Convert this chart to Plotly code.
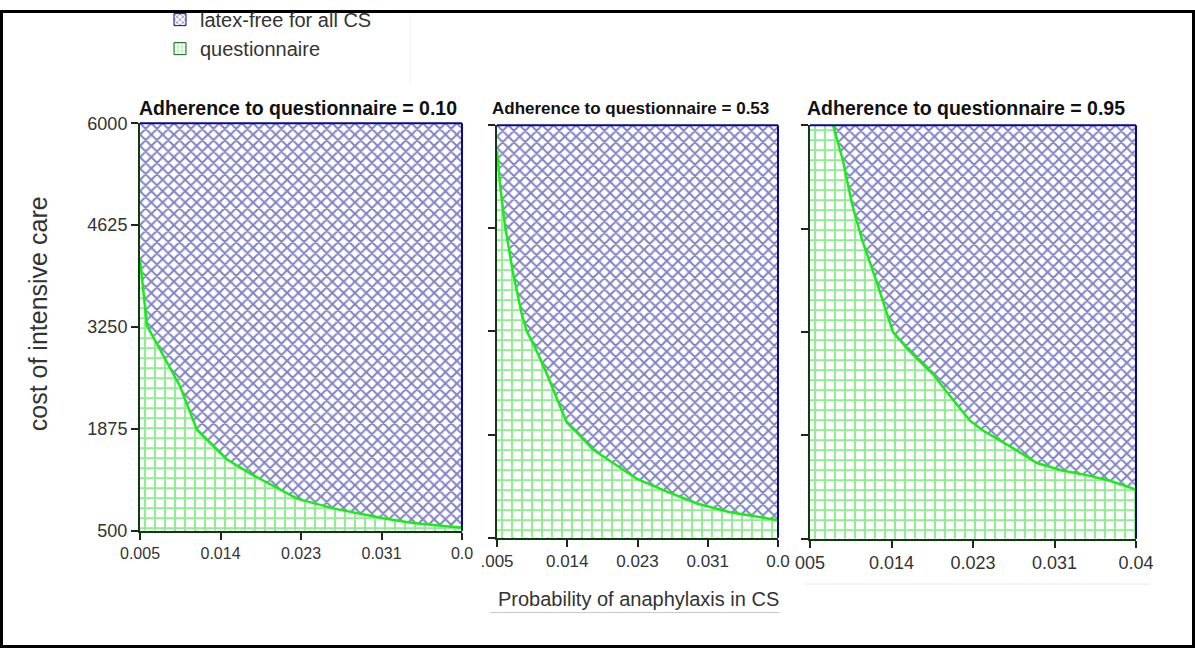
import plotly.graph_objects as go

# ---- data ----
x_min, x_max = 0.005, 0.04
y_min, y_max = 500, 6000
x_tickvals = [0.005, 0.01375, 0.0225, 0.03125, 0.04]
y_tickvals = [500, 1875, 3250, 4625, 6000]
y_ticktext = ["500", "1875", "3250", "4625", "6000"]
x_ticktext_p1 = ["0.005", "0.014", "0.023", "0.031", "0.0"]
x_ticktext_p2 = [".005", "0.014", "0.023", "0.031", "0.0"]
x_ticktext_p3 = ["005", "0.014", "0.023", "0.031", "0.04"]
adherence = ["0.10", "0.53", "0.95"]
series_names = ["latex-free for all CS", "questionnaire"]

# threshold curve (questionnaire preferred below)
p1_x = [0.005, 0.00576, 0.00935, 0.0101, 0.0112, 0.01446, 0.01728, 0.02207, 0.02598, 0.03141, 0.03467, 0.04]
p1_y = [4167, 3270, 2452, 2215, 1859, 1463, 1252, 935, 803, 671, 605, 540]
p2_x = [0.005, 0.00537, 0.006, 0.00699, 0.0081, 0.00872, 0.00973, 0.0112, 0.01285, 0.01372, 0.01496, 0.01696,
        0.02244, 0.02617, 0.02991, 0.03402, 0.04]
p2_y = [5659, 5214, 4651, 4035, 3472, 3249, 3039, 2686, 2253, 2031, 1900, 1677, 1284, 1114, 957, 840, 734]
p3_x = [0.00747, 0.00854, 0.00951, 0.01058, 0.01219, 0.01359, 0.01391, 0.01574, 0.01821, 0.02003, 0.02218,
        0.02357, 0.02647, 0.02937, 0.03184, 0.03506, 0.03721, 0.04]
p3_y = [6000, 5528, 4952, 4480, 3904, 3380, 3249, 2987, 2686, 2398, 2070, 1939, 1729, 1507, 1415, 1336, 1271, 1153]

curves = [(p1_x, p1_y), (p2_x, p2_y), (p3_x, p3_y)]
xticktexts = [x_ticktext_p1, x_ticktext_p2, x_ticktext_p3]

W, H = 1195, 648
# panel pixel boxes (left, right, top, bottom)
boxes = [(140, 462, 115, 529), (497, 778, 117, 536), (810, 1136, 117, 537)]
xtick_sizes = [16, 17, 18]
title_sizes = [19.5, 17, 19.5]
title_x = [137, 490, 805]

NAVY = "#0a0a8c"
GRID_GREEN = "#2cd82c"
LINE_GREEN = "#14ee14"
AXIS_DARK = "#0d3d0d"
FONT = "Liberation Sans"

fig = go.Figure()
for i, ((cx, cy), box) in enumerate(zip(curves, boxes)):
    xa = "x" if i == 0 else f"x{i+1}"
    ya = "y" if i == 0 else f"y{i+1}"
    # latex-free region (whole rectangle)
    fig.add_trace(go.Scatter(
        x=[x_min, x_max, x_max, x_min, x_min], y=[y_min, y_min, y_max, y_max, y_min],
        mode="lines", fill="toself", line=dict(color=NAVY, width=0),
        fillcolor="white",
        fillpattern=dict(shape="x", fgcolor=NAVY, bgcolor="white", size=8, solidity=0.45),
        showlegend=False, xaxis=xa, yaxis=ya, hoverinfo="skip"))
    # questionnaire region
    px = [x_min, x_min] + cx + [x_max, x_min]
    py = [y_min, cy[0] if cx[0] == x_min else y_max] + cy + [y_min, y_min]
    fig.add_trace(go.Scatter(
        x=px, y=py, mode="lines", fill="toself", line=dict(color=GRID_GREEN, width=0),
        fillcolor="white",
        fillpattern=dict(shape="+", fgcolor=GRID_GREEN, bgcolor="white", size=10, solidity=0.38),
        showlegend=False, xaxis=xa, yaxis=ya, hoverinfo="skip"))
    # boundary curve
    fig.add_trace(go.Scatter(
        x=cx, y=cy, mode="lines", line=dict(color=LINE_GREEN, width=2.5),
        showlegend=False, xaxis=xa, yaxis=ya, hoverinfo="skip"))

    l, r, t, b = box
    xd = [l / W, r / W]
    yd = [1 - b / H, 1 - t / H]
    xkey = "xaxis" if i == 0 else f"xaxis{i+1}"
    ykey = "yaxis" if i == 0 else f"yaxis{i+1}"
    fig.layout[xkey] = dict(
        domain=xd, range=[x_min, x_max], anchor=ya, tickmode="array", automargin=False,
        tickvals=x_tickvals, ticktext=xticktexts[i], ticks="outside", ticklen=7,
        tickwidth=1.5, tickcolor="#222", showline=True, linecolor=AXIS_DARK, linewidth=2,
        showgrid=False, zeroline=False,
        tickfont=dict(family=FONT, size=xtick_sizes[i], color="#333"))
    fig.layout[ykey] = dict(
        domain=yd, range=[y_min, y_max], anchor=xa, tickmode="array", automargin=False,
        tickvals=y_tickvals, ticktext=y_ticktext if i == 0 else [""] * 5, ticks="outside",
        ticklen=7, tickwidth=1.5, tickcolor="#222", showline=True, linecolor=AXIS_DARK,
        linewidth=2, showgrid=False, zeroline=False,
        tickfont=dict(family=FONT, size=18, color="#333"))
    # top / right navy border
    fig.add_shape(type="line", xref=f"{xa} domain", yref=f"{ya} domain", x0=0, x1=1, y0=1, y1=1,
                  line=dict(color=NAVY, width=2))
    fig.add_shape(type="line", xref=f"{xa} domain", yref=f"{ya} domain", x0=1, x1=1, y0=0, y1=1,
                  line=dict(color=NAVY, width=2))
    # panel title
    fig.add_annotation(text=f"<b>Adherence to questionnaire = {adherence[i]}</b>",
                       xref="paper", yref="paper", x=title_x[i] / W, y=1 - 100 / H,
                       xanchor="left", yanchor="middle", showarrow=False,
                       font=dict(family=FONT, size=title_sizes[i], color="#111"))

# legend entries (empty bar traces give square patterned legend icons)
fig.add_trace(go.Bar(x=[None], y=[None], name=series_names[0],
                     marker=dict(color="white", line=dict(color=NAVY, width=1),
                                 pattern=dict(shape="x", fgcolor=NAVY, bgcolor="white", size=5, solidity=0.35))))
fig.add_trace(go.Bar(x=[None], y=[None], name=series_names[1],
                     marker=dict(color="white", line=dict(color="#116611", width=1),
                                 pattern=dict(shape="+", fgcolor=GRID_GREEN, bgcolor="white", size=5, solidity=0.35))))

# axis titles
fig.add_annotation(text="cost of intensive care", xref="paper", yref="paper",
                   x=38 / W, y=1 - 309 / H, textangle=-90, showarrow=False,
                   xanchor="center", yanchor="middle",
                   font=dict(family=FONT, size=25, color="#333"))
fig.add_annotation(text="Probability of anaphylaxis in CS", xref="paper", yref="paper",
                   x=638 / W, y=1 - 598 / H, showarrow=False,
                   xanchor="center", yanchor="middle",
                   font=dict(family=FONT, size=20, color="#333"))

# outer frame and faint screenshot separators
fig.add_shape(type="rect", xref="paper", yref="paper", x0=1.5 / W, x1=1 - 1.5 / W,
              y0=1.5 / H, y1=1 - 1.5 / H, line=dict(color="black", width=3))
fig.add_shape(type="line", xref="paper", yref="paper", x0=490 / W, x1=780 / W,
              y0=1 - 612 / H, y1=1 - 612 / H, line=dict(color="#c8c8c8", width=1))
fig.add_shape(type="line", xref="paper", yref="paper", x0=805 / W, x1=1150 / W,
              y0=1 - 583 / H, y1=1 - 583 / H, line=dict(color="#e4e8f0", width=1))
fig.add_shape(type="line", xref="paper", yref="paper", x0=410 / W, x1=410 / W,
              y0=1 - 75 / H, y1=1 - 4 / H, line=dict(color="#eef0f4", width=1))

fig.update_layout(
    width=W, height=H, autosize=False,
    margin=dict(l=0, r=0, t=0, b=0),
    paper_bgcolor="white", plot_bgcolor="white",
    showlegend=True,
    legend=dict(x=160 / W, y=1 + 10 / H, xanchor="left", yanchor="top",
                bgcolor="rgba(0,0,0,0)", font=dict(family=FONT, size=20, color="#333"),
                tracegroupgap=0, itemwidth=30),
)

fig.write_html("out.html", config={"displayModeBar": False},
               post_script="document.body.style.margin='0';document.body.style.overflow='hidden';")
